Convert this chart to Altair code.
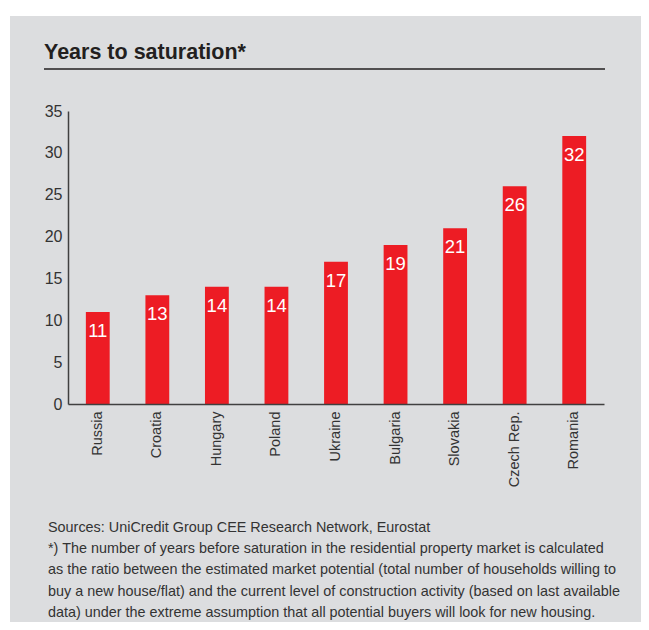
import altair as alt
import pandas as pd

countries = ["Russia", "Croatia", "Hungary", "Poland", "Ukraine",
             "Bulgaria", "Slovakia", "Czech Rep.", "Romania"]
years = [11, 13, 14, 14, 17, 19, 21, 26, 32]
y_ticks = [0, 5, 10, 15, 20, 25, 30, 35]

title_text = "Years to saturation*"
footnote_lines = [
    "Sources: UniCredit Group CEE Research Network, Eurostat",
    "*) The number of years before saturation in the residential property market is calculated",
    "as the ratio between the estimated market potential (total number of households willing to",
    "buy a new house/flat) and the current level of construction activity (based on last available",
    "data) under the extreme assumption that all potential buyers will look for new housing.",
]

FONT = "Liberation Sans, Arial, Helvetica, sans-serif"
RED = "#ED1C24"
BG = "#DCDDDF"
DARK = "#231F20"

df = pd.DataFrame({"country": countries, "years": years})

W, H = 536, 293

x = alt.X("country:N", sort=countries, title=None,
          scale=alt.Scale(paddingInner=0.6, paddingOuter=0.3),
          axis=alt.Axis(labelAngle=270, labelFont=FONT, labelFontSize=14.5,
                        labelColor="#333333", labelPadding=7, ticks=False,
                        domainColor="#404040", domainWidth=1.5, zindex=1))
y = alt.Y("years:Q", title=None,
          scale=alt.Scale(domain=[0, 35], nice=False),
          axis=alt.Axis(values=y_ticks, grid=False,
                        ticks=False, labelFont=FONT, labelFontSize=16,
                        labelColor="#333333", labelPadding=6,
                        domainColor="#404040", domainWidth=1.5, zindex=1))

bg = alt.Chart(pd.DataFrame({"k": [0]})).mark_rect(color=BG).encode(
    x=alt.value(-58), x2=alt.value(W + 50), y=alt.value(-95), y2=alt.value(H + 230)
)

bars = alt.Chart(df).mark_bar(color=RED).encode(x=x, y=y)

labels = alt.Chart(df).mark_text(
    color="white", font=FONT, fontSize=18.5, baseline="alphabetic", dy=25
).encode(x=x, y=y, text="years:Q")

title = alt.Chart(pd.DataFrame({"t": [title_text]})).mark_text(
    font=FONT, fontSize=21.5, fontWeight="bold", color=DARK, align="left",
    baseline="alphabetic"
).encode(x=alt.value(-24), y=alt.value(-52.5), text="t:N")

rule = alt.Chart(pd.DataFrame({"k": [0]})).mark_rule(color=DARK, strokeWidth=1.5).encode(
    x=alt.value(-24), x2=alt.value(537), y=alt.value(-42)
)

foot = alt.Chart(pd.DataFrame({"t": ["\n".join(footnote_lines)]})).mark_text(
    font=FONT, fontSize=14.4, color="#333333", align="left", baseline="alphabetic",
    lineBreak="\n", lineHeight=21.2
).encode(x=alt.value(-20), y=alt.value(421), text="t:N")

chart = alt.layer(bg, bars, labels, title, rule, foot).properties(
    width=W, height=H,
    autosize=alt.AutoSizeParams(type="none"),
    padding={"left": 60, "top": 103, "right": 37, "bottom": 218},
    background="white",
).configure_view(stroke=None)

chart.save("out.html", embed_options={"renderer": "svg", "actions": False})
